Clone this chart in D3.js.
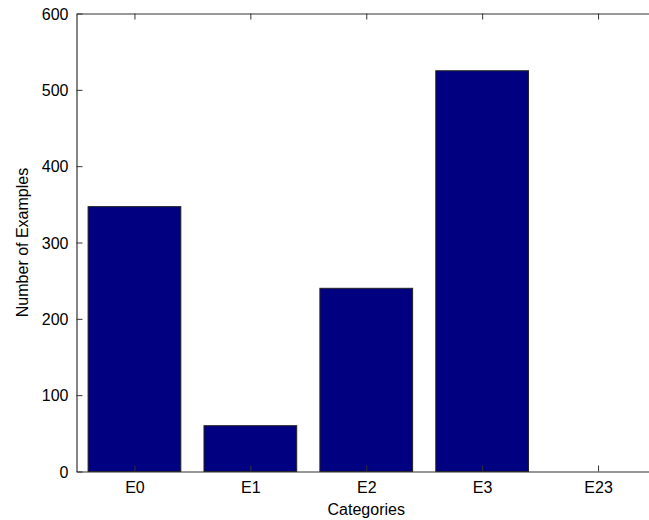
<!DOCTYPE html>
<html>
<head>
<meta charset="utf-8">
<script src="https://cdn.jsdelivr.net/npm/d3@7"></script>
<style>
  html, body { margin: 0; padding: 0; background: #fff; }
  svg { display: block; }
  text { font-family: "Liberation Sans", Arial, Helvetica, sans-serif; fill: #000; }
</style>
</head>
<body>
<svg id="chart" width="649" height="520"></svg>
<script>
// Example counts per category
const categories = ["E0", "E1", "E2", "E3", "E23"];
const counts = [347, 60, 240, 525, 0];
const yTicks = [0, 100, 200, 300, 400, 500, 600];

const W = 649, H = 520;
const margin = { left: 76.5, top: 13.5, right: -7, bottom: 48.5 };
const plotW = W - margin.left - margin.right;
const plotH = H - margin.top - margin.bottom;

const svg = d3.select("#chart");
const g = svg.append("g").attr("transform", `translate(${margin.left},${margin.top})`);

// category positions 1..n on a linear axis padded by half a slot
const x = d3.scaleLinear().domain([0.5, categories.length + 0.5]).range([0, plotW]);
const y = d3.scaleLinear().domain([0, 600]).range([plotH, 0]);
const barW = (x(2) - x(1)) * 0.8;

const axisColor = "#333";
const fontSize = 16;

// bars
g.selectAll("rect.bar")
  .data(counts)
  .join("rect")
  .attr("class", "bar")
  .attr("x", (d, i) => x(i + 1) - barW / 2)
  .attr("width", barW)
  .attr("y", d => y(d))
  .attr("height", d => y(0) - y(d))
  .attr("fill", "#000080")
  .attr("stroke", d => d > 0 ? "#222" : "none")
  .attr("stroke-width", 1);

// left axis with inward ticks
const yAxis = d3.axisLeft(y).tickValues(yTicks).tickSizeInner(-6).tickSizeOuter(0).tickPadding(8);
const gy = g.append("g").call(yAxis);
gy.select(".domain").attr("stroke", axisColor).attr("stroke-width", 1.2);
gy.selectAll(".tick line").attr("stroke", axisColor);
gy.selectAll(".tick text").style("font-size", fontSize + "px").attr("dy", "0.36em");

// bottom axis with inward ticks
const xAxis = d3.axisBottom(x).tickValues(d3.range(1, categories.length + 1))
  .tickFormat(d => categories[d - 1]).tickSizeInner(-6).tickSizeOuter(0).tickPadding(10);
const gx = g.append("g").attr("transform", `translate(0,${plotH})`).call(xAxis);
gx.select(".domain").attr("stroke", axisColor).attr("stroke-width", 1.2);
gx.selectAll(".tick line").attr("stroke", axisColor);
gx.selectAll(".tick text").style("font-size", fontSize + "px");

// top box edge with mirrored ticks
const xTop = d3.axisTop(x).tickValues(d3.range(1, categories.length + 1))
  .tickFormat("").tickSizeInner(-6).tickSizeOuter(0);
const gt = g.append("g").call(xTop);
gt.select(".domain").attr("stroke", axisColor).attr("stroke-width", 1.2);
gt.selectAll(".tick line").attr("stroke", axisColor);

// right box edge with mirrored ticks
const yRight = d3.axisRight(y).tickValues(yTicks).tickFormat("").tickSizeInner(-6).tickSizeOuter(0);
const gr = g.append("g").attr("transform", `translate(${plotW},0)`).call(yRight);
gr.select(".domain").attr("stroke", axisColor).attr("stroke-width", 1.2);
gr.selectAll(".tick line").attr("stroke", axisColor);

// axis titles
svg.append("text")
  .attr("x", margin.left + x(3))
  .attr("y", 515)
  .attr("text-anchor", "middle")
  .style("font-size", fontSize + "px")
  .text("Categories");

svg.append("text")
  .attr("transform", `translate(28,${margin.top + plotH / 2}) rotate(-90)`)
  .attr("text-anchor", "middle")
  .style("font-size", fontSize + "px")
  .text("Number of Examples");
</script>
</body>
</html>
